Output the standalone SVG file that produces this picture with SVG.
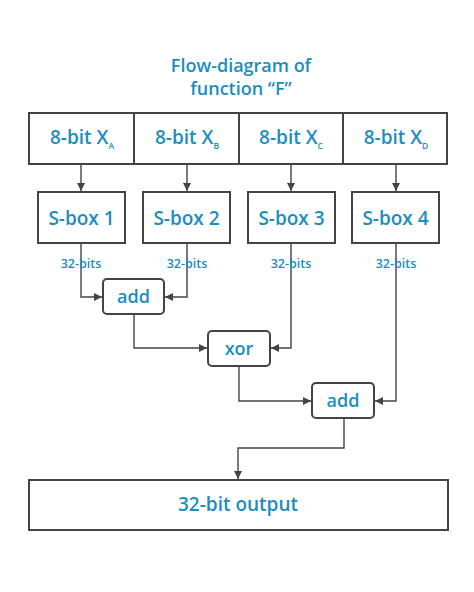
<svg xmlns="http://www.w3.org/2000/svg" width="474" height="592" viewBox="0 0 474 592">
<style>
.t{font-family:"Open Sans","Liberation Sans",sans-serif;font-weight:600;fill:#1b8dbf;text-anchor:middle}
.box{fill:#fff;stroke:#444;stroke-width:2}
.c{fill:none;stroke:#444;stroke-width:1.4}
.l{font-family:"Open Sans","Liberation Sans",sans-serif;font-weight:600;fill:#1b8dbf;font-size:12.5px;text-anchor:middle}
</style>
<defs>
<marker id="a" viewBox="0 0 8 8" refX="8" refY="4" markerWidth="8" markerHeight="8" markerUnits="userSpaceOnUse" orient="auto">
<path d="M0,0 L8,4 L0,8 Z" fill="#444"/>
</marker>
</defs>
<rect width="474" height="592" fill="#fff"/>
<g id="title">
<text class="t" x="241" y="72" font-size="18">Flow-diagram of</text>
<text class="t" x="241" y="95" font-size="18">function “F”</text>
</g>
<g id="connectors">
<path class="c" d="M81,164 V191" marker-end="url(#a)"/>
<path class="c" d="M187,164 V191" marker-end="url(#a)"/>
<path class="c" d="M291,164 V191" marker-end="url(#a)"/>
<path class="c" d="M396,164 V191" marker-end="url(#a)"/>
<path class="c" d="M81,243 V297 H102" marker-end="url(#a)"/>
<path class="c" d="M187,243 V297 H165" marker-end="url(#a)"/>
<path class="c" d="M134,314 V348 H207" marker-end="url(#a)"/>
<path class="c" d="M291,243 V348 H271" marker-end="url(#a)"/>
<path class="c" d="M239,366 V401 H311" marker-end="url(#a)"/>
<path class="c" d="M396,243 V401 H375" marker-end="url(#a)"/>
<path class="c" d="M344,418 V448 H238 V479" marker-end="url(#a)"/>
</g>
<g id="labels">
<text class="l" x="81" y="268">32-bits</text>
<text class="l" x="187" y="268">32-bits</text>
<text class="l" x="291" y="268">32-bits</text>
<text class="l" x="396" y="268">32-bits</text>
</g>
<g id="input">
<rect class="box" x="29" y="113" width="418" height="51"/>
<path class="c" d="M134,113 V164 M239,113 V164 M343,113 V164" style="stroke-width:2"/>
<text class="t" x="82" y="144" font-size="19">8-bit X<tspan font-size="8.5" dy="5">A</tspan></text>
<text class="t" x="187" y="144" font-size="19">8-bit X<tspan font-size="8.5" dy="5">B</tspan></text>
<text class="t" x="291" y="144" font-size="19">8-bit X<tspan font-size="8.5" dy="5">C</tspan></text>
<text class="t" x="396" y="144" font-size="19">8-bit X<tspan font-size="8.5" dy="5">D</tspan></text>
</g>
<g id="sbox1"><rect class="box" x="38" y="192" width="87" height="51"/><text class="t" x="81.5" y="225" font-size="19">S-box 1</text></g>
<g id="sbox2"><rect class="box" x="143" y="192" width="87" height="51"/><text class="t" x="186.5" y="225" font-size="19">S-box 2</text></g>
<g id="sbox3"><rect class="box" x="248" y="192" width="87" height="51"/><text class="t" x="291.5" y="225" font-size="19">S-box 3</text></g>
<g id="sbox4"><rect class="box" x="352" y="192" width="87" height="51"/><text class="t" x="395.5" y="225" font-size="19">S-box 4</text></g>
<g id="add1"><rect class="box" x="103" y="279" width="61" height="35" rx="4"/><text class="t" x="133.5" y="303" font-size="18">add</text></g>
<g id="xor"><rect class="box" x="208" y="331" width="62" height="35" rx="4"/><text class="t" x="239" y="355" font-size="18">xor</text></g>
<g id="add2"><rect class="box" x="312" y="383" width="62" height="35" rx="4"/><text class="t" x="343" y="407" font-size="18">add</text></g>
<g id="output"><rect class="box" x="29" y="480" width="419" height="50"/><text class="t" x="238" y="511" font-size="19">32-bit output</text></g>
</svg>
